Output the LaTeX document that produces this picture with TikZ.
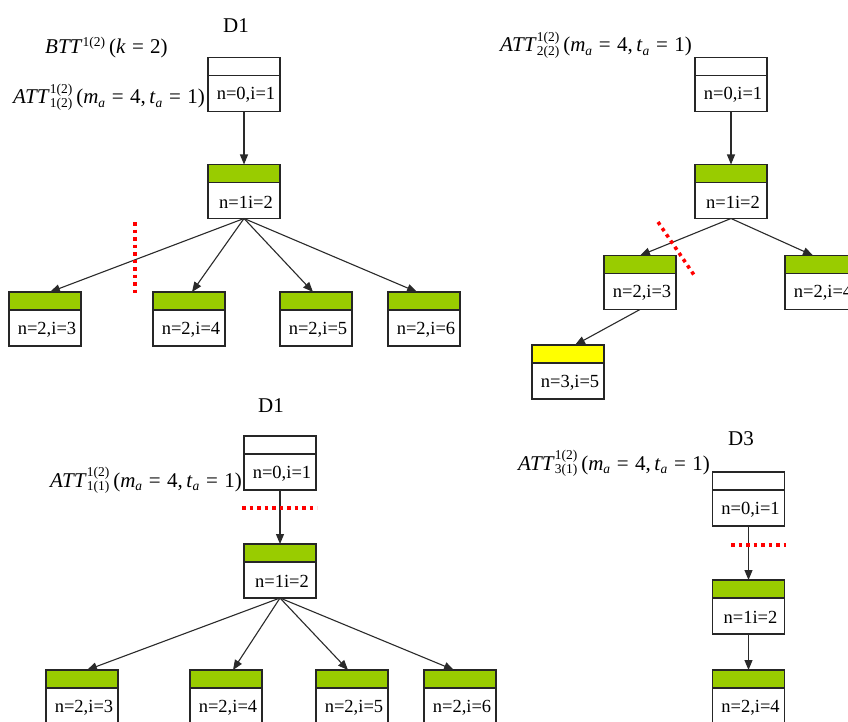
\documentclass[tikz,border=0pt]{standalone}
\usepackage{fontspec}
\setmainfont{Liberation Serif}
\usetikzlibrary{arrows.meta}
\definecolor{hdrgreen}{HTML}{99CC00}
\definecolor{hdryellow}{HTML}{FFFF00}
\definecolor{edgec}{HTML}{2A2A2A}
\newcommand\mysmall[1]{\hbox{\fontsize{13.5}{13.5}\selectfont #1}}
\newcommand\myeq{\hspace{0.3em}=\hspace{0.3em}}
\newcommand\attlab[1]{\textit{ATT}$^{\mysmall{1(2)}}_{\mysmall{#1}}$\,(\textit{m}$_{\mysmall{\itshape a}}$\myeq 4,\,\textit{t}$_{\mysmall{\itshape a}}$\myeq 1)}
\newcommand\tbox[5]{%
  \node[box] (#1) at (#2,#3) {};
  \fill[#4] (#1.north west) rectangle ([yshift=-18pt]#1.north east);
  \draw[boxline] ([yshift=-18pt]#1.north west) -- ([yshift=-18pt]#1.north east);
  \draw[boxline] (#1.north west) rectangle (#1.south east);
  \node[lbl] (#1t) at ([xshift=2pt,yshift=-10.5pt]#1.center) {#5};
}
\begin{document}
\begin{tikzpicture}[x=1pt,y=-1pt,
  box/.style={draw=none, minimum width=72pt, minimum height=54pt, inner sep=0pt, outer sep=0pt},
  boxline/.style={draw=black!85, line width=1.1pt},
  lbl/.style={inner sep=0pt, font=\fontsize{18.5}{18.5}\selectfont},
  title/.style={inner sep=0pt, font=\fontsize{21}{21}\selectfont},
  mlab/.style={inner sep=0pt, font=\fontsize{21}{21}\selectfont},
  edge/.style={draw=edgec, line width=1.1pt, -{Triangle[length=10pt,width=8pt]}},
  cut/.style={draw=red, line width=3.5pt, dash pattern=on 3.5pt off 4pt}
]
\useasboundingbox (0,0) rectangle (848,722);
\clip (0,0) rectangle (848,722);
\fill[white] (0,0) rectangle (848,722);

% ---------- top-left D1 ----------
\node[title, anchor=base] (t1) at (236,33) {D1};
\node[mlab, anchor=base west] (btt) at (45,54) {\textit{BTT}$^{\mysmall{1(2)}}$\,(\textit{k}\myeq 2)};
\node[mlab, anchor=base east] (att1) at (205,104) {\attlab{1(2)}};
\tbox{a0}{244}{84.5}{white}{n=0,i=1}
\tbox{a1}{244}{191.5}{hdrgreen}{n=1i=2}
\tbox{a2}{45}{319}{hdrgreen}{n=2,i=3}
\tbox{a3}{189}{319}{hdrgreen}{n=2,i=4}
\tbox{a4}{316}{319}{hdrgreen}{n=2,i=5}
\tbox{a5}{424}{319}{hdrgreen}{n=2,i=6}
\draw[edge] (a0.south) -- (a1.north);
\draw[edge] (a1.south) -- ([xshift=5pt]a2.north);
\draw[edge] (a1.south) -- ([xshift=3pt]a3.north);
\draw[edge] (a1.south) -- ([xshift=-3pt]a4.north);
\draw[edge] (a1.south) -- ([xshift=-7pt]a5.north);
\coordinate (ca1) at (135,222);
\coordinate (ca2) at (135,293);
\draw[cut] (ca1) -- (ca2);

% ---------- top-right ----------
\node[mlab, anchor=base east] (att2) at (692,52) {\attlab{2(2)}};
\tbox{b0}{731}{84.5}{white}{n=0,i=1}
\tbox{b1}{731}{191.5}{hdrgreen}{n=1i=2}
\tbox{b2}{640}{282.5}{hdrgreen}{n=2,i=3}
\tbox{b3}{821}{282.5}{hdrgreen}{n=2,i=4}
\tbox{b4}{568}{372}{hdryellow}{n=3,i=5}
\draw[edge] (b0.south) -- (b1.north);
\draw[edge] (b1.south) -- (b2.north);
\draw[edge] (b1.south) -- ([xshift=-8pt]b3.north);
\draw[edge] (b2.south) -- ([xshift=7pt]b4.north);
\coordinate (cb1) at (658,222);
\coordinate (cb2) at (694,275);
\draw[cut] (cb1) -- (cb2);

% ---------- bottom-left D1 ----------
\node[title, anchor=base] (t2) at (271,412) {D1};
\node[mlab, anchor=base east] (att3) at (242,487) {\attlab{1(1)}};
\tbox{c0}{280}{463}{white}{n=0,i=1}
\tbox{c1}{280}{571}{hdrgreen}{n=1i=2}
\tbox{c2}{82}{697}{hdrgreen}{n=2,i=3}
\tbox{c3}{226}{697}{hdrgreen}{n=2,i=4}
\tbox{c4}{352}{697}{hdrgreen}{n=2,i=5}
\tbox{c5}{460}{697}{hdrgreen}{n=2,i=6}
\draw[edge] (c0.south) -- (c1.north);
\draw[edge] (c1.south) -- ([xshift=5pt]c2.north);
\draw[edge] (c1.south) -- ([xshift=7pt]c3.north);
\draw[edge] (c1.south) -- ([xshift=-4pt]c4.north);
\draw[edge] (c1.south) -- ([xshift=-6pt]c5.north);
\coordinate (cc1) at (242,508);
\coordinate (cc2) at (317,508);
\draw[cut] (cc1) -- (cc2);

% ---------- D3 ----------
\node[title, anchor=base] (t3) at (741,445) {D3};
\node[mlab, anchor=base east] (att4) at (710,470) {\attlab{3(1)}};
\tbox{d0}{748.5}{499}{white}{n=0,i=1}
\tbox{d1}{748.5}{607}{hdrgreen}{n=1i=2}
\tbox{d2}{748.5}{697}{hdrgreen}{n=2,i=4}
\draw[edge] (d0.south) -- (d1.north);
\draw[edge] (d1.south) -- (d2.north);
\coordinate (cd1) at (731,545);
\coordinate (cd2) at (786,545);
\draw[cut] (cd1) -- (cd2);
\end{tikzpicture}
\end{document}
